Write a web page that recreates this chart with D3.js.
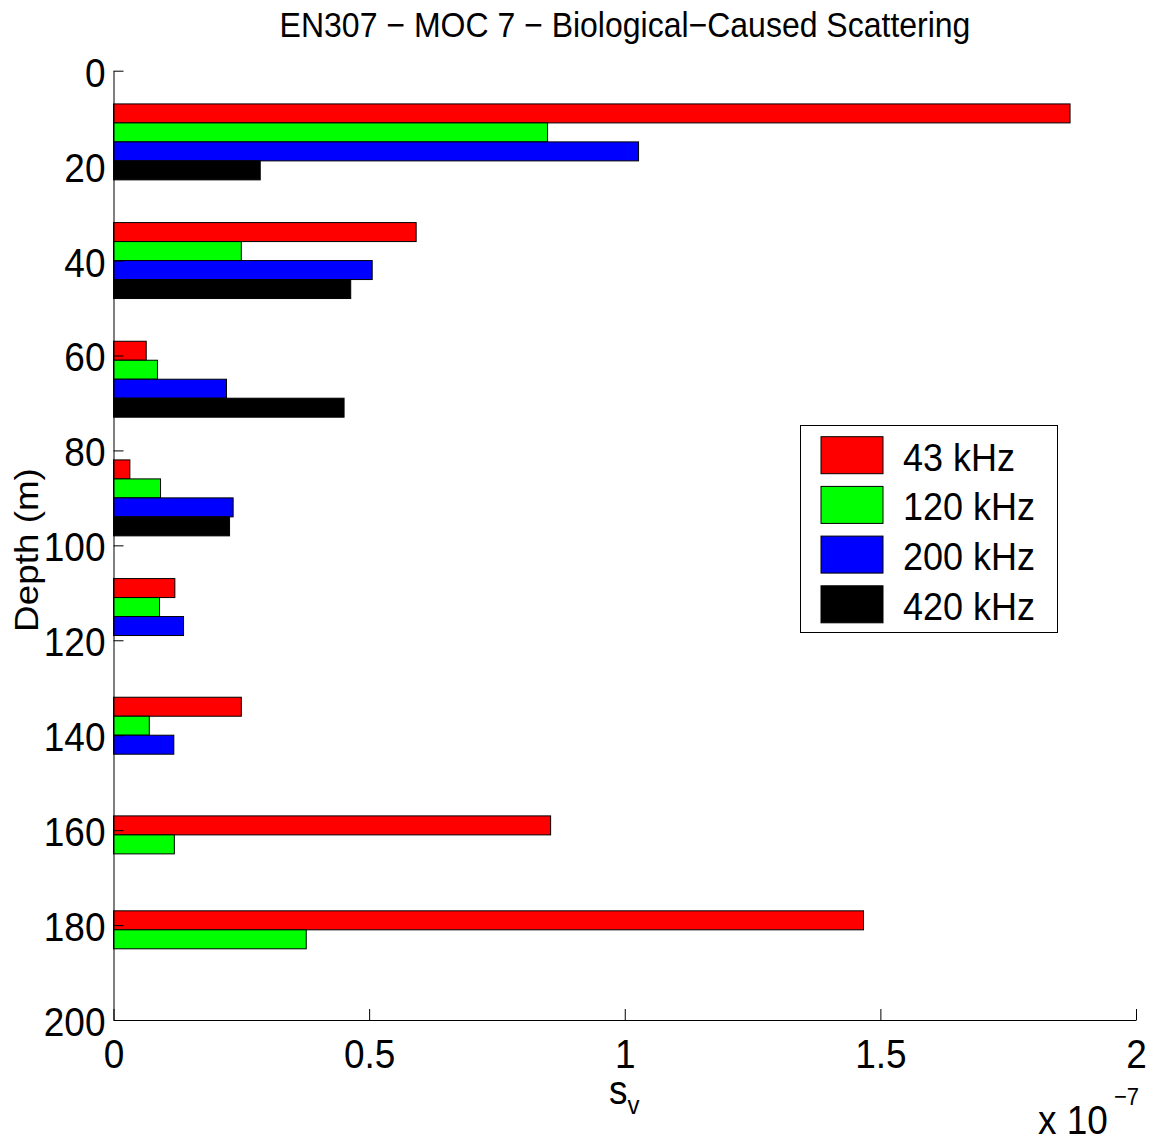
<!DOCTYPE html>
<html>
<head>
<meta charset="utf-8">
<script src="https://cdn.jsdelivr.net/npm/d3@7"></script>
<style>
  html, body { margin: 0; padding: 0; background: #fff; }
  text { font-family: "Liberation Sans", Arial, Helvetica, sans-serif; fill: #000; }
</style>
</head>
<body>
<svg id="chart" width="1156" height="1139"></svg>
<script>
// ---- data (s_v values, in units of 1e-7) ----
const depths = [15, 40, 65, 90, 115, 140, 165, 185];
const sv43  = [1.871, 0.592, 0.064, 0.032, 0.120, 0.250, 0.855, 1.467];
const sv120 = [0.849, 0.250, 0.086, 0.092, 0.090, 0.070, 0.119, 0.377];
const sv200 = [1.027, 0.506, 0.221, 0.234, 0.137, 0.118, 0, 0];
const sv420 = [0.287, 0.464, 0.451, 0.227, 0, 0, 0, 0];
const seriesNames = ["43 kHz", "120 kHz", "200 kHz", "420 kHz"];
const seriesColors = ["#ff0000", "#00ff00", "#0000ff", "#000000"];
const yTicks = [0, 20, 40, 60, 80, 100, 120, 140, 160, 180, 200];
const xTicks = [0, 0.5, 1, 1.5, 2];
const xScaleExp = 1e-7;

const titleText = "EN307 \u2212 MOC 7 \u2212 Biological\u2212Caused Scattering";

const allSeries = [sv43, sv120, sv200, sv420];

(function () {
// ---- layout ----
const svg = d3.select("#chart");
const pLeft = 113.5, pRight = 1136, pTop = 70.7, pBottom = 1020;
const SY = 1.1; // vertical text stretch of the original export

const x = d3.scaleLinear().domain([0, 2 * xScaleExp]).range([pLeft, pRight]);
const y = d3.scaleLinear().domain([0, 200]).range([pTop, pBottom]);
const barW = 4; // bar thickness in depth units

// ---- bars ----
allSeries.forEach((vals, si) => {
  const data = depths.map((d, i) => ({ depth: d, v: vals[i] * xScaleExp }));
  svg.append("g")
    .selectAll("rect")
    .data(data.filter(d => d.v > 0))
    .join("rect")
    .attr("x", x(0))
    .attr("y", d => y(d.depth + (si - 2) * barW))
    .attr("width", d => x(d.v) - x(0))
    .attr("height", d => y(d.depth + (si - 1) * barW) - y(d.depth + (si - 2) * barW))
    .attr("fill", seriesColors[si])
    .attr("stroke", "#000")
    .attr("stroke-width", 1);
});

// ---- axes ----
const yAxis = svg.append("g")
  .attr("transform", `translate(${pLeft},0)`)
  .call(d3.axisLeft(y).tickValues(yTicks).tickSize(-10).tickSizeOuter(0).tickPadding(8));
yAxis.selectAll("text")
  .attr("dy", null)
  .attr("y", null)
  .attr("font-size", 37)
  .attr("transform", `translate(0,15.5) scale(1,${SY})`);

const xAxis = svg.append("g")
  .attr("transform", `translate(0,${pBottom})`)
  .call(d3.axisBottom(x).tickValues(xTicks.map(t => t * xScaleExp)).tickSize(-11).tickSizeOuter(0)
    .tickFormat(d => String(+(d / xScaleExp).toFixed(1))));
xAxis.selectAll("text")
  .attr("dy", null)
  .attr("y", null)
  .attr("font-size", 37)
  .attr("transform", `translate(0,48) scale(1,${SY})`);

[yAxis, xAxis].forEach(a => {
  a.selectAll("path, line").attr("stroke", "#000").attr("stroke-width", 1);
  a.attr("font-family", null);
});

// ---- title & labels ----
svg.append("text")
  .attr("text-anchor", "middle")
  .attr("font-size", 32)
  .attr("transform", `translate(625,37) scale(1,${SY})`)
  .text(titleText);

svg.append("text")
  .attr("text-anchor", "middle")
  .attr("font-size", 33.5)
  .attr("transform", `translate(37.5,550) scale(1,${SY}) rotate(-90)`)
  .text("Depth (m)");

const xl = svg.append("text")
  .attr("font-size", 37)
  .attr("transform", `translate(609,1104) scale(1,${SY})`);
xl.append("tspan").text("s");
xl.append("tspan").attr("font-size", 24).attr("dy", 9).text("v");

svg.append("text")
  .attr("font-size", 37)
  .attr("transform", `translate(1038,1134) scale(1,${SY})`)
  .text("x 10");
svg.append("text")
  .attr("font-size", 22)
  .attr("transform", `translate(1114,1105) scale(1,${SY})`)
  .text("\u22127");

// ---- legend ----
const lg = svg.append("g");
lg.append("rect")
  .attr("x", 800.5).attr("y", 425.5).attr("width", 257).attr("height", 207)
  .attr("fill", "#fff").attr("stroke", "#000").attr("stroke-width", 1);
seriesNames.forEach((name, i) => {
  const ty = 436.7 + i * 49.7;
  lg.append("rect")
    .attr("x", 821).attr("y", ty).attr("width", 62).attr("height", 37)
    .attr("fill", seriesColors[i]).attr("stroke", "#000").attr("stroke-width", 1);
  lg.append("text")
    .attr("font-size", 36)
    .attr("transform", `translate(903,${ty + 34}) scale(1,${SY})`)
    .text(name);
});
})();
</script>
</body>
</html>
